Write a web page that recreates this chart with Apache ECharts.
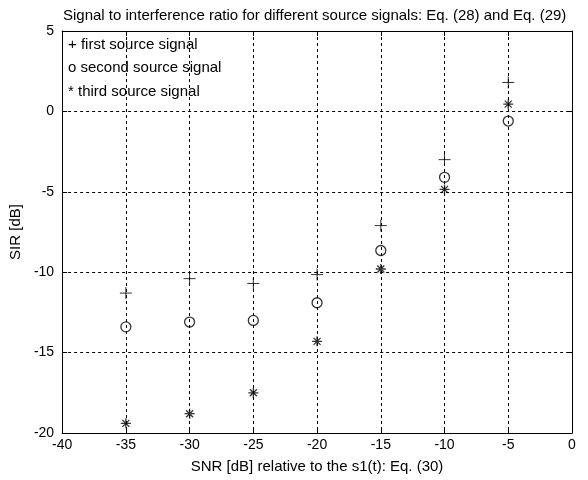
<!DOCTYPE html>
<html>
<head>
<meta charset="utf-8">
<script src="https://cdn.jsdelivr.net/npm/echarts@6/dist/echarts.min.js"></script>
<style>
  html, body { margin: 0; padding: 0; background: #fff; }
  #chart { width: 588px; height: 480px; }
</style>
</head>
<body>
<div id="chart"></div>
<script>
// SNR values (x) shared by all three sources
const snr = [-35, -30, -25, -20, -15, -10, -5]
// SIR values
const firstSource = [-11.3, -10.4, -10.7, -10.15, -7.1, -3.0, 1.8]
const secondSource = [-13.4, -13.1, -13.0, -11.9, -8.65, -4.1, -0.6]
const thirdSource = [-19.4, -18.8, -17.5, -14.3, -9.8, -4.85, 0.45]
const legendLines = ['+ first source signal', 'o second source signal', '* third source signal']

const font = 'Liberation Sans, Arial, sans-serif'
const plusPath = 'path://M0,5L10,5M5,0L5,10'
const starPath = 'path://M0,5L10,5M5,0L5,10M1.5,1.5L8.5,8.5M1.5,8.5L8.5,1.5'

const toPoints = ys => snr.map((x, i) => [x, ys[i]])

const chart = echarts.init(document.getElementById('chart'))

const gridLine = { show: true, lineStyle: { color: '#000', width: 1, type: [3, 3] } }
const frameLine = { show: true, onZero: false, lineStyle: { color: '#000', width: 1 } }
const innerTick = { show: true, inside: true, length: 5, lineStyle: { color: '#000' } }
const tickText = { fontFamily: font, fontSize: 14, color: '#000' }

chart.setOption({
  backgroundColor: '#fff',
  animation: false,
  title: {
    text: 'Signal to interference ratio for different source signals: Eq. (28) and Eq. (29)',
    left: 58,
    top: 3,
    textStyle: { fontFamily: font, fontSize: 15, fontWeight: 'normal', color: '#000' }
  },
  grid: { left: 60, right: 16, top: 31, bottom: 47 },
  graphic: legendLines.map((t, i) => ({
    type: 'text',
    left: 68,
    top: 37 + i * 23.5,
    style: { text: t, fontFamily: font, fontSize: 15, fill: '#000' }
  })),
  xAxis: [
    {
      type: 'value',
      min: -40,
      max: 0,
      interval: 5,
      name: 'SNR [dB] relative to the s1(t): Eq. (30)',
      nameLocation: 'middle',
      nameGap: 26,
      nameTextStyle: { fontFamily: font, fontSize: 15, color: '#000' },
      axisLine: frameLine,
      axisTick: innerTick,
      axisLabel: Object.assign({ margin: 5 }, tickText),
      splitLine: gridLine
    },
    {
      type: 'value',
      position: 'top',
      min: -40,
      max: 0,
      interval: 5,
      axisLine: frameLine,
      axisTick: innerTick,
      axisLabel: { show: false },
      splitLine: { show: false }
    }
  ],
  yAxis: [
    {
      type: 'value',
      min: -20,
      max: 5,
      interval: 5,
      name: 'SIR [dB]',
      nameLocation: 'middle',
      nameGap: 35,
      nameTextStyle: { fontFamily: font, fontSize: 15, color: '#000' },
      axisLine: frameLine,
      axisTick: innerTick,
      axisLabel: Object.assign({ margin: 8 }, tickText),
      splitLine: gridLine
    },
    {
      type: 'value',
      position: 'right',
      min: -20,
      max: 5,
      interval: 5,
      axisLine: frameLine,
      axisTick: innerTick,
      axisLabel: { show: false },
      splitLine: { show: false }
    }
  ],
  series: [
    {
      name: 'first source signal',
      type: 'scatter',
      data: toPoints(firstSource),
      symbol: plusPath,
      symbolSize: 12,
      itemStyle: { color: 'none', borderColor: '#000', borderWidth: 1 }
    },
    {
      name: 'second source signal',
      type: 'scatter',
      data: toPoints(secondSource),
      symbol: 'circle',
      symbolSize: 10,
      itemStyle: { color: 'none', borderColor: '#000', borderWidth: 1.3 }
    },
    {
      name: 'third source signal',
      type: 'scatter',
      data: toPoints(thirdSource),
      symbol: starPath,
      symbolSize: 10,
      itemStyle: { color: 'none', borderColor: '#000', borderWidth: 1.3 }
    }
  ]
})
</script>
</body>
</html>
